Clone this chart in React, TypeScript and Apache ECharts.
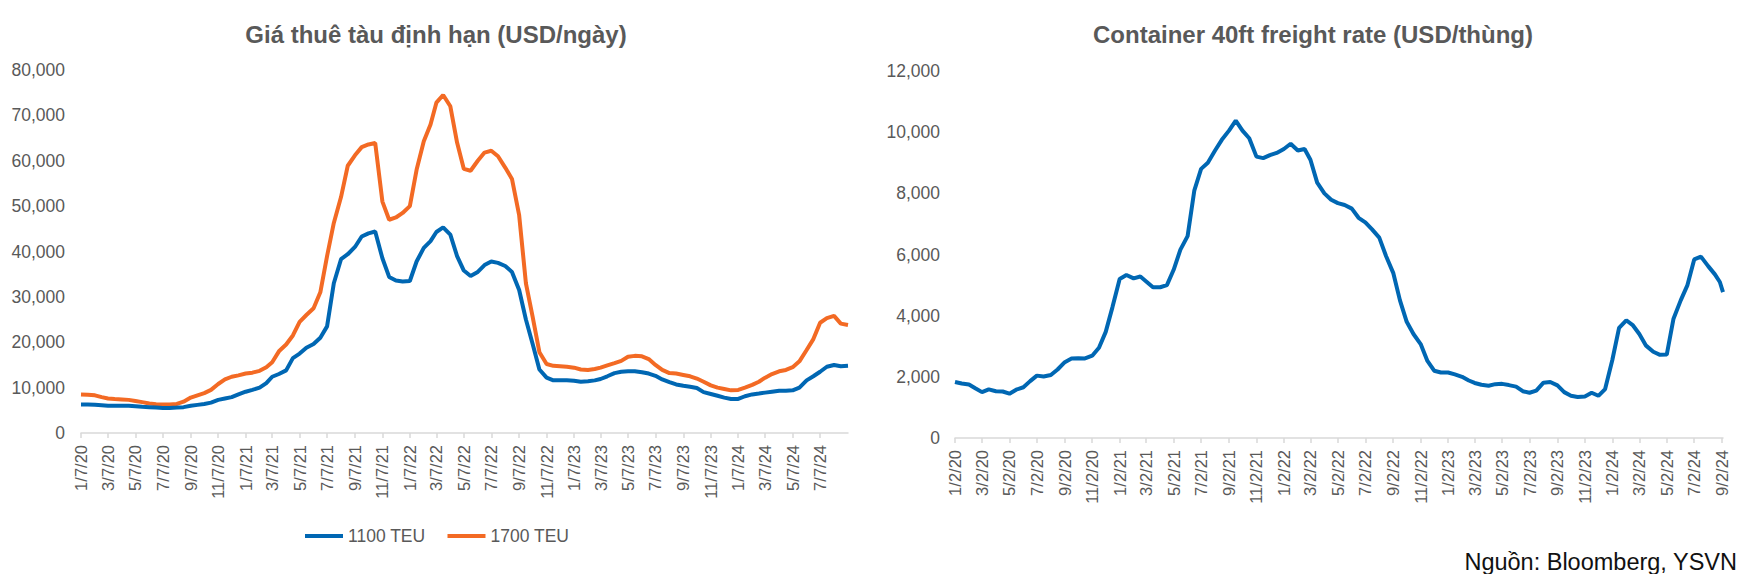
import { useEffect, useRef } from "react";
import * as echarts from "echarts";

// ---------- Left chart: time-charter rates (USD/day) ----------
const charterDates = [
  "2020-01-07","2020-01-22","2020-02-07","2020-02-22","2020-03-07","2020-03-22","2020-04-07","2020-04-22","2020-05-07","2020-05-22","2020-06-07","2020-06-22",
  "2020-07-07","2020-07-22","2020-08-07","2020-08-22","2020-09-07","2020-09-22","2020-10-07","2020-10-22","2020-11-07","2020-11-22","2020-12-07","2020-12-22",
  "2021-01-07","2021-01-22","2021-02-07","2021-02-22","2021-03-07","2021-03-22","2021-04-07","2021-04-22","2021-05-07","2021-05-22","2021-06-07","2021-06-22",
  "2021-07-07","2021-07-22","2021-08-07","2021-08-22","2021-09-07","2021-09-22","2021-10-07","2021-10-22","2021-11-07","2021-11-22","2021-12-07","2021-12-22",
  "2022-01-07","2022-01-22","2022-02-07","2022-02-22","2022-03-07","2022-03-22","2022-04-07","2022-04-22","2022-05-07","2022-05-22","2022-06-07","2022-06-22",
  "2022-07-07","2022-07-22","2022-08-07","2022-08-22","2022-09-07","2022-09-22","2022-10-07","2022-10-22","2022-11-07","2022-11-22","2022-12-07","2022-12-22",
  "2023-01-07","2023-01-22","2023-02-07","2023-02-22","2023-03-07","2023-03-22","2023-04-07","2023-04-22","2023-05-07","2023-05-22","2023-06-07","2023-06-22",
  "2023-07-07","2023-07-22","2023-08-07","2023-08-22","2023-09-07","2023-09-22","2023-10-07","2023-10-22","2023-11-07","2023-11-22","2023-12-07","2023-12-22",
  "2024-01-07","2024-01-22","2024-02-07","2024-02-22","2024-03-07","2024-03-22","2024-04-07","2024-04-22","2024-05-07","2024-05-22","2024-06-07","2024-06-22",
  "2024-07-07","2024-07-22","2024-08-07","2024-08-22","2024-09-07",
];

const teu1100 = [
  6300, 6300, 6200, 6100, 6000, 6000, 6000, 6000, 5900, 5800, 5700, 5600,
  5500, 5500, 5600, 5700, 6000, 6200, 6400, 6700, 7300, 7600, 7900, 8500,
  9100, 9500, 10000, 11000, 12400, 13000, 13800, 16500, 17500, 18800, 19600, 21000,
  23500, 33000, 38300, 39400, 41000, 43300, 44000, 44400, 38500, 34400, 33600, 33400,
  33500, 37800, 40800, 42300, 44300, 45300, 43700, 39000, 35800, 34600, 35500, 37000,
  37800, 37500, 36800, 35500, 31500, 25000, 19600, 14000, 12200, 11600, 11600, 11600,
  11500, 11300, 11400, 11600, 11900, 12500, 13200, 13500, 13600, 13600, 13400, 13100,
  12600, 11800, 11200, 10700, 10400, 10200, 9900, 9000, 8600, 8200, 7800, 7500,
  7500, 8100, 8500, 8700, 8900, 9100, 9300, 9300, 9400, 10000, 11600, 12500,
  13500, 14600, 15000, 14700, 14800,
];

const teu1700 = [
  8500, 8450, 8300, 7900, 7600, 7500, 7400, 7300, 7050, 6800, 6500, 6350,
  6300, 6300, 6400, 6900, 7800, 8300, 8800, 9500, 10800, 11800, 12400, 12700,
  13100, 13300, 13700, 14500, 15600, 18000, 19500, 21500, 24500, 26000, 27500, 31000,
  39000, 46300, 52000, 58900, 61200, 63000, 63600, 63900, 51000, 47000, 47500, 48500,
  50000, 58000, 64300, 68000, 72800, 74500, 72000, 64000, 58200, 57800, 60000, 61800,
  62200, 61000, 58500, 56000, 48000, 33000, 25600, 17800, 15200, 14800, 14700, 14600,
  14400, 14000, 13900, 14100, 14400, 14900, 15400, 15900, 16800, 17000, 16900, 16300,
  15000, 13900, 13200, 13100, 12800, 12500, 12000, 11300, 10500, 10000, 9700, 9400,
  9500, 10000, 10600, 11300, 12200, 13000, 13600, 13900, 14500, 15800, 18300, 20700,
  24300, 25300, 25800, 24100, 23800,
];

const charterTicks = [
  "2020-01-07","2020-03-07","2020-05-07","2020-07-07","2020-09-07","2020-11-07",
  "2021-01-07","2021-03-07","2021-05-07","2021-07-07","2021-09-07","2021-11-07",
  "2022-01-07","2022-03-07","2022-05-07","2022-07-07","2022-09-07","2022-11-07",
  "2023-01-07","2023-03-07","2023-05-07","2023-07-07","2023-09-07","2023-11-07",
  "2024-01-07","2024-03-07","2024-05-07","2024-07-07",
];

// ---------- Right chart: 40ft container freight rate (USD/box) ----------
const freightDates = [
  "2020-01-02","2020-01-17","2020-02-02","2020-02-17","2020-03-02","2020-03-17","2020-04-02","2020-04-17","2020-05-02","2020-05-17","2020-06-02","2020-06-17",
  "2020-07-02","2020-07-17","2020-08-02","2020-08-17","2020-09-02","2020-09-17","2020-10-02","2020-10-17","2020-11-02","2020-11-17","2020-12-02","2020-12-17",
  "2021-01-02","2021-01-17","2021-02-02","2021-02-17","2021-03-02","2021-03-17","2021-04-02","2021-04-17","2021-05-02","2021-05-17","2021-06-02","2021-06-17",
  "2021-07-02","2021-07-17","2021-08-02","2021-08-17","2021-09-02","2021-09-17","2021-10-02","2021-10-17","2021-11-02","2021-11-17","2021-12-02","2021-12-17",
  "2022-01-02","2022-01-17","2022-02-02","2022-02-17","2022-03-02","2022-03-17","2022-04-02","2022-04-17","2022-05-02","2022-05-17","2022-06-02","2022-06-17",
  "2022-07-02","2022-07-17","2022-08-02","2022-08-17","2022-09-02","2022-09-17","2022-10-02","2022-10-17","2022-11-02","2022-11-17","2022-12-02","2022-12-17",
  "2023-01-02","2023-01-17","2023-02-02","2023-02-17","2023-03-02","2023-03-17","2023-04-02","2023-04-17","2023-05-02","2023-05-17","2023-06-02","2023-06-17",
  "2023-07-02","2023-07-17","2023-08-02","2023-08-17","2023-09-02","2023-09-17","2023-10-02","2023-10-17","2023-11-02","2023-11-17","2023-12-02","2023-12-17",
  "2024-01-02","2024-01-17","2024-02-02","2024-02-17","2024-03-02","2024-03-17","2024-04-02","2024-04-17","2024-05-02","2024-05-17","2024-06-02","2024-06-17",
  "2024-07-02","2024-07-17","2024-08-02","2024-08-17","2024-08-28","2024-09-04",
];

const freightRate = [
  1830, 1780, 1750, 1620, 1500, 1590, 1530, 1520, 1450, 1580, 1660, 1860,
  2040, 2010, 2060, 2240, 2480, 2600, 2610, 2600, 2690, 2950, 3470, 4280,
  5200, 5330, 5220, 5280, 5120, 4930, 4930, 5000, 5500, 6160, 6600, 8100,
  8800, 9000, 9400, 9750, 10050, 10380, 10050, 9800, 9200, 9150, 9250, 9320,
  9450, 9620, 9400, 9450, 9100, 8350, 8000, 7790, 7680, 7620, 7500, 7200,
  7050, 6820, 6550, 5950, 5400, 4500, 3800, 3400, 3070, 2520, 2200, 2140,
  2140, 2080, 2000, 1880, 1800, 1740, 1710, 1760, 1770, 1730, 1680, 1530,
  1480, 1550, 1810, 1830, 1720, 1500, 1380, 1340, 1360, 1480, 1380, 1600,
  2550, 3600, 3850, 3680, 3400, 3020, 2820, 2720, 2730, 3900, 4500, 5000,
  5840, 5930, 5620, 5350, 5100, 4770,
];

const freightTicks = [
  "2020-01-02","2020-03-02","2020-05-02","2020-07-02","2020-09-02","2020-11-02",
  "2021-01-02","2021-03-02","2021-05-02","2021-07-02","2021-09-02","2021-11-02",
  "2022-01-02","2022-03-02","2022-05-02","2022-07-02","2022-09-02","2022-11-02",
  "2023-01-02","2023-03-02","2023-05-02","2023-07-02","2023-09-02","2023-11-02",
  "2024-01-02","2024-03-02","2024-05-02","2024-07-02","2024-09-02",
];

const seriesNames = ["1100 TEU", "1700 TEU"];
const titles = ["Giá thuê tàu định hạn (USD/ngày)", "Container 40ft freight rate (USD/thùng)"];
const sourceText = "Nguồn: Bloomberg, YSVN";

const FONT = "'Liberation Sans', Arial, sans-serif";
const GREY = "#595959";
const AXIS = "#d9d9d9";
const BLUE = "#0067b3";
const ORANGE = "#f36a24";

const ts = (s: string) => {
  const [y, m, d] = s.split("-").map(Number);
  return Date.UTC(y, m - 1, d);
};
const fmtDate = (v: number) => {
  const d = new Date(v);
  return `${d.getUTCMonth() + 1}/${d.getUTCDate()}/${String(d.getUTCFullYear()).slice(2)}`;
};
const fmtNum = (v: number) => v.toLocaleString("en-US");
const pairs = (dates: string[], vals: number[]) => dates.map((d, i) => [ts(d), vals[i]]);

export default function App() {
  const ref = useRef<HTMLDivElement>(null);
  useEffect(() => {
    document.body.style.margin = "0";
    if (!ref.current) return;
    const chart = echarts.init(ref.current, undefined, { renderer: "svg" });

    const xAxisBase = (ticks: string[], min: string, max: string, gridIndex: number) => {
      const tv = ticks.map(ts);
      return {
        type: "value",
        gridIndex,
        min: ts(min),
        max: ts(max),
        splitLine: { show: false },
        axisLine: { show: true, lineStyle: { color: AXIS, width: 1.5 } },
        axisTick: { show: true, customValues: tv, length: 5, lineStyle: { color: AXIS, width: 1.5 } },
        axisLabel: {
          customValues: tv,
          rotate: 90,
          margin: 12,
          color: GREY,
          fontSize: 16.5,
          fontFamily: FONT,
          formatter: (v: number) => fmtDate(v),
        },
      };
    };
    const yAxisBase = (max: number, interval: number, gridIndex: number, margin: number) => ({
      type: "value",
      gridIndex,
      min: 0,
      max,
      interval,
      splitLine: { show: false },
      axisLine: { show: false },
      axisTick: { show: false },
      axisLabel: { color: GREY, fontSize: 17.5, fontFamily: FONT, margin, formatter: (v: number) => fmtNum(v) },
    });

    chart.setOption({
      animation: false,
      textStyle: { fontFamily: FONT },
      grid: [
        { left: 81, top: 70, width: 767, height: 363 },
        { left: 955, top: 71, width: 768, height: 367 },
      ],
      xAxis: [
        xAxisBase(charterTicks, charterDates[0], charterDates[charterDates.length - 1], 0),
        xAxisBase(freightTicks, freightDates[0], freightDates[freightDates.length - 1], 1),
      ],
      yAxis: [yAxisBase(80000, 10000, 0, 16), yAxisBase(12000, 2000, 1, 15)],
      legend: {
        data: seriesNames,
        left: 300,
        top: 522,
        icon: "rect",
        itemWidth: 38,
        itemHeight: 4,
        itemGap: 22,
        textStyle: { color: GREY, fontSize: 17.5, fontFamily: FONT },
      },
      series: [
        {
          name: seriesNames[0],
          type: "line",
          xAxisIndex: 0,
          yAxisIndex: 0,
          data: pairs(charterDates, teu1100),
          showSymbol: false,
          color: BLUE,
          lineStyle: { width: 4, color: BLUE },
          z: 3,
        },
        {
          name: seriesNames[1],
          type: "line",
          xAxisIndex: 0,
          yAxisIndex: 0,
          data: pairs(charterDates, teu1700),
          showSymbol: false,
          color: ORANGE,
          lineStyle: { width: 4, color: ORANGE },
          z: 2,
        },
        {
          name: "Container 40ft",
          type: "line",
          xAxisIndex: 1,
          yAxisIndex: 1,
          data: pairs(freightDates, freightRate),
          showSymbol: false,
          color: BLUE,
          lineStyle: { width: 4, color: BLUE },
        },
      ],
      graphic: [
        {
          type: "text",
          x: 436,
          y: 34,
          style: { text: titles[0], fill: GREY, font: `bold 24px ${FONT}`, textAlign: "center", textVerticalAlign: "middle" },
        },
        {
          type: "text",
          x: 1313,
          y: 34,
          style: { text: titles[1], fill: GREY, font: `bold 24px ${FONT}`, textAlign: "center", textVerticalAlign: "middle" },
        },
        {
          type: "text",
          x: 1737,
          y: 562,
          style: { text: sourceText, fill: "#111111", font: `23.5px ${FONT}`, textAlign: "right", textVerticalAlign: "middle" },
        },
      ],
    });
    return () => chart.dispose();
  }, []);
  return <div ref={ref} style={{ width: 1758, height: 574 }} />;
}
